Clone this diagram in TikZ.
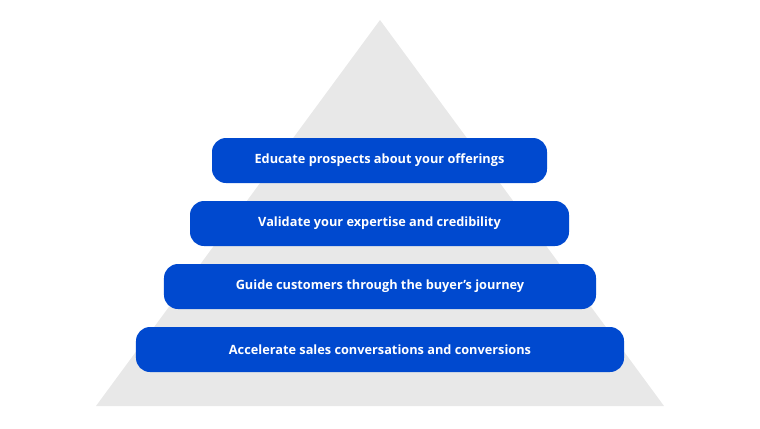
\documentclass[tikz,border=0pt]{standalone}
\usepackage{fontspec}
\setmainfont{Open Sans}
\usetikzlibrary{positioning}
\definecolor{pyrgrey}{HTML}{E8E8E8}
\definecolor{barblue}{HTML}{0049CF}
\tikzset{bar/.style={fill=barblue, rounded corners=14bp, text=white, font=\bfseries\fontsize{12.8}{15}\selectfont, minimum height=45bp, inner sep=0pt}}

\begin{document}
\begin{tikzpicture}[x=1bp, y=-1bp]
				\useasboundingbox (0,0) rectangle (760,428);
				\fill[pyrgrey] (380,20) -- (664,406) -- (96,406) -- cycle;
				\node[bar, minimum width=335bp] (b1) at (379.5,160.5) {Educate prospects about your offerings};
				\node[bar, minimum width=379bp] (b2) at (379.5,223.5) {Validate your expertise and credibility};
				\node[bar, minimum width=432bp] (b3) at (380,286.5) {Guide customers through the buyer's journey};
				\node[bar, minimum width=488bp] (b4) at (380,349.5) {Accelerate sales conversations and conversions};
			\end{tikzpicture}
\end{document}
